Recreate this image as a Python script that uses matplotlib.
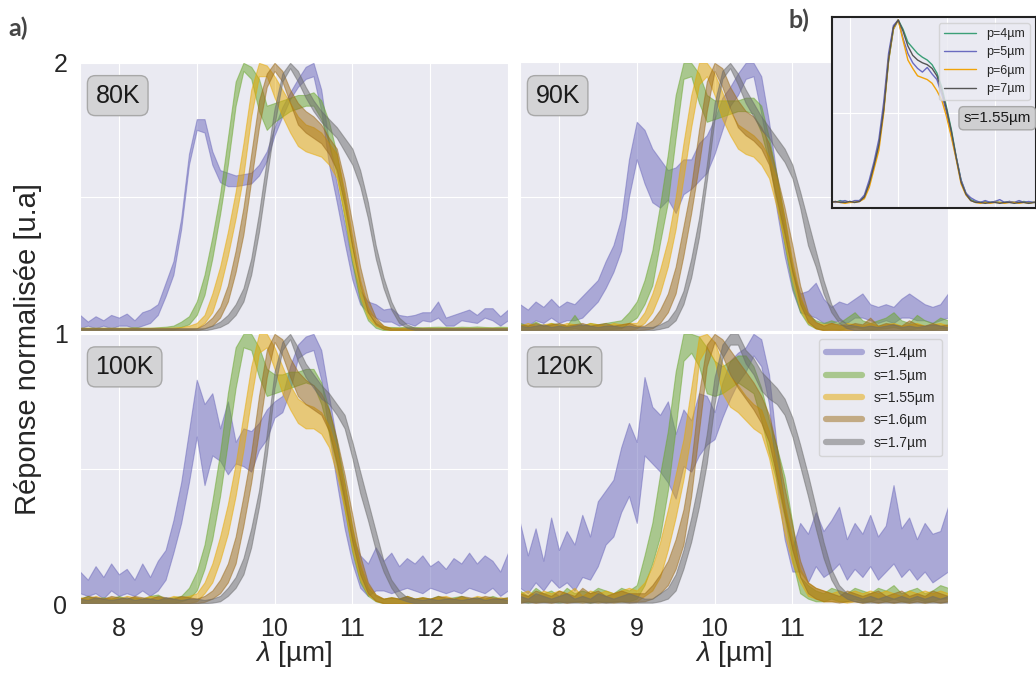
import matplotlib
matplotlib.use("Agg")
import matplotlib.pyplot as plt
from matplotlib.lines import Line2D
import seaborn as sns

# ---------------- data ----------------
WL = [7.5, 7.6, 7.7, 7.8, 7.9,
      8.0, 8.1, 8.2, 8.3, 8.4, 8.5, 8.6, 8.7, 8.8, 8.9,
      9.0, 9.1, 9.2, 9.3, 9.4, 9.5, 9.6, 9.7, 9.8, 9.9,
      10.0, 10.1, 10.2, 10.3, 10.4, 10.5, 10.6, 10.7, 10.8, 10.9,
      11.0, 11.1, 11.2, 11.3, 11.4, 11.5, 11.6, 11.7, 11.8, 11.9,
      12.0, 12.1, 12.2, 12.3, 12.4, 12.5, 12.6, 12.7, 12.8, 12.9,
      13.0]

SERIES = ["s=1.4µm", "s=1.5µm", "s=1.55µm", "s=1.6µm", "s=1.7µm"]
PANELS = ["80K", "90K", "100K", "120K"]

# ---- 80K ----
K80_S14_LO = [.01, .02, .01, .02, .01,
              .02, .02, .01, .02, .03, .06, .13, .21, .38, .62,
              .75, .74, .62, .555, .54, .54, .545, .55, .58, .635,
              .73, .80, .865, .91, .94, .95, .82, .62, .48, .33,
              .19, .10, .07, .05, .035, .035, .02, .03, .02, .04,
              .035, .05, .02, .02, .04, .035, .03, .05, .04, .02,
              .04]
K80_S14_HI = [.06, .035, .055, .04, .06,
              .05, .065, .04, .07, .08, .10, .18, .26, .42, .66,
              .79, .79, .67, .60, .59, .58, .585, .59, .62, .67,
              .76, .835, .89, .94, .985, 1.0, .90, .70, .55, .40,
              .25, .15, .11, .10, .08, .085, .06, .055, .06, .07,
              .07, .11, .05, .06, .07, .08, .06, .085, .085, .055,
              .08]
K80_S15_LO = [.002, .002, .002, .002, .002,
              .002, .002, .002, .002, .002, .002, .003, .005, .015, .025,
              .06, .135, .27, .435, .62, .84, .97, .94, .82, .75,
              .78, .80, .82, .83, .84, .84, .79, .70, .58, .42,
              .25, .11, .04, .012, .003, .003, .003, .003, .003, .003,
              .003, .003, .003, .003, .003, .003, .003, .003, .003, .003,
              .003]
K80_S15_HI = [.012, .012, .012, .012, .012,
              .012, .012, .014, .012, .012, .014, .016, .02, .035, .055,
              .11, .21, .35, .51, .72, .93, 1.0, .985, .94, .84,
              .85, .86, .87, .88, .88, .89, .86, .78, .66, .50,
              .32, .16, .07, .03, .015, .015, .014, .016, .015, .014,
              .015, .016, .015, .014, .016, .015, .017, .015, .014, .016,
              .015]
K80_S155_LO = [.002, .002, .002, .002, .002,
               .002, .002, .002, .002, .002, .002, .002, .002, .003, .005,
               .01, .03, .07, .16, .28, .42, .58, .80, .95, .95,
               .87, .80, .74, .69, .67, .66, .65, .62, .57, .43,
               .27, .13, .05, .02, .008, .003, .003, .003, .003, .003,
               .003, .003, .003, .003, .003, .003, .003, .003, .003, .003,
               .003]
K80_S155_HI = [.012, .012, .012, .012, .012,
               .012, .012, .012, .012, .012, .012, .012, .013, .015, .02,
               .03, .06, .14, .24, .37, .52, .70, .90, 1.0, .99,
               .95, .90, .85, .80, .77, .76, .74, .70, .66, .52,
               .35, .19, .09, .04, .02, .012, .012, .012, .012, .012,
               .012, .012, .012, .012, .012, .012, .012, .012, .012, .012,
               .012]
K80_S16_LO = [.002, .002, .002, .002, .002,
              .002, .002, .002, .002, .002, .002, .002, .002, .002, .002,
              .002, .01, .02, .05, .11, .22, .36, .56, .76, .91,
              .97, .93, .85, .77, .74, .72, .70, .66, .60, .47,
              .31, .17, .07, .025, .008, .003, .003, .003, .003, .003,
              .003, .003, .003, .003, .003, .003, .003, .003, .003, .003,
              .003]
K80_S16_HI = [.01, .01, .01, .01, .01,
              .01, .01, .01, .01, .01, .01, .01, .01, .01, .01,
              .01, .025, .05, .09, .17, .30, .46, .66, .86, .96,
              1.0, .97, .90, .85, .82, .80, .77, .72, .68, .56,
              .40, .24, .12, .05, .02, .01, .01, .01, .01, .01,
              .01, .01, .01, .01, .01, .01, .01, .01, .01, .01,
              .01]
K80_S17_LO = [.002, .002, .002, .002, .002,
              .002, .002, .002, .002, .002, .002, .002, .002, .002, .002,
              .002, .002, .008, .015, .03, .06, .11, .21, .37, .57,
              .77, .93, .98, .93, .87, .82, .78, .75, .72, .67,
              .62, .54, .42, .27, .16, .08, .03, .012, .004, .002,
              .002, .002, .002, .002, .002, .002, .002, .002, .002, .002,
              .002]
K80_S17_HI = [.01, .01, .01, .01, .01,
              .01, .01, .01, .01, .01, .01, .01, .01, .01, .01,
              .01, .01, .02, .035, .06, .10, .16, .27, .44, .64,
              .83, .96, 1.0, .97, .91, .86, .82, .79, .76, .72,
              .68, .60, .48, .32, .20, .11, .05, .025, .012, .01,
              .01, .01, .01, .01, .01, .01, .01, .01, .01, .01,
              .01]

# ---- 90K ----
K90_S14_LO = [.03, .02, .04, .03, .05,
              .03, .04, .04, .05, .08, .11, .16, .22, .30, .50,
              .64, .55, .48, .46, .49, .44, .51, .53, .56, .59,
              .66, .75, .84, .88, .94, .95, .81, .65, .45, .28,
              .15, .07, .06, .05, .03, .03, .04, .03, .05, .05,
              .04, .03, .04, .03, .05, .05, .04, .04, .03, .04,
              .05]
K90_S14_HI = [.10, .08, .11, .09, .12,
              .09, .11, .10, .13, .16, .19, .26, .32, .42, .64,
              .78, .75, .68, .64, .60, .61, .64, .64, .70, .73,
              .79, .87, .91, .96, 1.0, 1.0, .95, .78, .58, .38,
              .22, .14, .15, .18, .12, .09, .11, .10, .12, .14,
              .10, .09, .10, .09, .12, .14, .12, .10, .09, .10,
              .14]
K90_S15_LO = [.005, .005, .005, .005, .005,
              .005, .005, .01, .005, .005, .005, .005, .008, .01, .03,
              .05, .10, .17, .33, .48, .72, .94, .95, .85, .78,
              .79, .80, .81, .82, .82, .81, .74, .63, .48, .32,
              .16, .07, .025, .01, .005, .008, .005, .01, .015, .008,
              .005, .008, .01, .015, .008, .005, .01, .008, .005, .01,
              .008]
K90_S15_HI = [.03, .02, .035, .02, .03,
              .025, .02, .06, .02, .03, .025, .03, .035, .04, .07,
              .11, .19, .30, .47, .66, .88, 1.0, 1.0, .96, .88,
              .86, .86, .86, .86, .87, .87, .84, .72, .58, .42,
              .24, .12, .06, .04, .03, .04, .03, .05, .07, .04,
              .03, .04, .05, .07, .04, .03, .06, .04, .03, .05,
              .04]
K90_S155_LO = [.003, .003, .003, .003, .003,
               .003, .003, .003, .003, .003, .003, .003, .003, .003, .003,
               .01, .03, .07, .14, .24, .38, .57, .76, .92, .95,
               .88, .79, .73, .68, .66, .65, .62, .57, .46, .33,
               .19, .08, .03, .01, .003, .003, .003, .003, .003, .003,
               .003, .003, .003, .003, .003, .003, .003, .003, .003, .003,
               .003]
K90_S155_HI = [.02, .03, .02, .025, .03,
               .02, .03, .025, .02, .03, .025, .02, .03, .025, .03,
               .03, .07, .14, .23, .34, .50, .70, .88, 1.0, 1.0,
               .96, .89, .82, .77, .75, .73, .70, .65, .56, .42,
               .26, .13, .06, .03, .025, .03, .02, .03, .025, .02,
               .03, .02, .025, .03, .02, .025, .03, .02, .025, .03,
               .02]
K90_S16_LO = [.003, .003, .003, .003, .003,
              .003, .003, .003, .003, .003, .003, .003, .003, .003, .003,
              .003, .005, .01, .03, .07, .14, .28, .44, .62, .82,
              .97, .91, .83, .76, .73, .71, .68, .62, .49, .36,
              .22, .10, .035, .01, .003, .003, .003, .003, .003, .003,
              .003, .003, .003, .003, .003, .003, .003, .003, .003, .003,
              .003]
K90_S16_HI = [.025, .02, .03, .02, .025,
              .03, .02, .025, .03, .02, .025, .03, .02, .025, .03,
              .02, .02, .04, .08, .14, .24, .39, .54, .75, .93,
              1.0, .98, .91, .86, .82, .80, .76, .70, .58, .46,
              .32, .17, .07, .035, .02, .03, .025, .02, .03, .025,
              .05, .02, .03, .025, .02, .04, .025, .02, .03, .02,
              .025]
K90_S17_LO = [.003, .003, .003, .003, .003,
              .003, .003, .003, .003, .003, .003, .003, .003, .003, .003,
              .003, .003, .003, .008, .015, .04, .10, .20, .35, .56,
              .79, .94, .98, .92, .85, .80, .75, .72, .67, .63,
              .57, .46, .32, .24, .14, .07, .03, .01, .003, .003,
              .003, .003, .003, .003, .003, .003, .003, .003, .003, .003,
              .003]
K90_S17_HI = [.02, .015, .02, .025, .015,
              .02, .015, .02, .025, .02, .015, .02, .02, .015, .02,
              .015, .015, .015, .025, .04, .08, .15, .27, .42, .62,
              .85, .97, 1.0, .96, .90, .85, .80, .76, .72, .68,
              .62, .52, .41, .30, .19, .10, .05, .025, .02, .015,
              .02, .015, .02, .025, .015, .02, .015, .02, .025, .02,
              .015]

# ---- 100K ----
K100_S14_LO = [.04, .03, .04, .02, .05,
               .03, .04, .03, .05, .03, .05, .09, .19, .30, .45,
               .62, .44, .55, .53, .48, .52, .51, .49, .57, .61,
               .69, .71, .79, .91, .93, .94, .83, .63, .45, .28,
               .15, .06, .03, .05, .05, .04, .05, .06, .05, .04,
               .06, .05, .04, .05, .04, .06, .05, .04, .06, .03,
               .05]
K100_S14_HI = [.12, .09, .14, .10, .15,
               .11, .13, .09, .15, .10, .16, .20, .31, .45, .64,
               .83, .74, .78, .65, .75, .60, .65, .64, .67, .72,
               .75, .77, .88, .96, .99, 1.0, .94, .77, .60, .40,
               .25, .18, .15, .21, .16, .19, .14, .17, .15, .18,
               .14, .16, .13, .17, .15, .19, .15, .18, .16, .12,
               .19]
K100_S15_LO = [.003, .003, .003, .003, .003,
               .003, .003, .003, .003, .003, .003, .003, .003, .01, .02,
               .05, .13, .24, .40, .60, .80, .95, .94, .84, .77,
               .78, .79, .80, .81, .82, .81, .74, .63, .51, .35,
               .19, .08, .03, .01, .003, .003, .003, .003, .003, .003,
               .003, .003, .003, .003, .003, .003, .003, .003, .003, .003,
               .003]
K100_S15_HI = [.02, .03, .02, .025, .02,
               .03, .02, .025, .02, .03, .035, .02, .025, .03, .06,
               .12, .22, .38, .56, .78, .95, 1.0, 1.0, .95, .87,
               .85, .85, .86, .86, .87, .87, .82, .72, .60, .45,
               .28, .14, .06, .03, .02, .025, .02, .03, .02, .025,
               .02, .03, .02, .025, .03, .02, .025, .02, .03, .02,
               .025]
K100_S155_LO = [.003, .003, .003, .003, .003,
                .003, .003, .003, .003, .003, .003, .003, .003, .003, .003,
                .01, .04, .08, .16, .26, .40, .57, .76, .93, .95,
                .87, .78, .72, .67, .65, .65, .63, .58, .48, .35,
                .20, .09, .035, .012, .003, .003, .003, .003, .003, .003,
                .003, .003, .003, .003, .003, .003, .003, .003, .003, .003,
                .003]
K100_S155_HI = [.025, .02, .03, .02, .025,
                .02, .03, .025, .02, .03, .025, .02, .03, .025, .03,
                .04, .08, .15, .25, .37, .52, .70, .88, 1.0, 1.0,
                .95, .88, .81, .76, .74, .73, .71, .66, .57, .44,
                .28, .15, .07, .035, .02, .025, .02, .03, .02, .025,
                .02, .025, .03, .02, .025, .02, .03, .025, .02, .025,
                .02]
K100_S16_LO = [.003, .003, .003, .003, .003,
               .003, .003, .003, .003, .003, .003, .003, .003, .003, .003,
               .003, .008, .02, .04, .08, .15, .29, .45, .64, .84,
               .97, .92, .84, .77, .74, .72, .70, .64, .52, .38,
               .23, .11, .04, .012, .003, .003, .003, .003, .003, .003,
               .003, .003, .003, .003, .003, .003, .003, .003, .003, .003,
               .003]
K100_S16_HI = [.02, .03, .025, .02, .03,
               .025, .02, .03, .025, .02, .03, .025, .02, .03, .025,
               .02, .03, .05, .09, .15, .25, .40, .56, .77, .94,
               1.0, .98, .91, .86, .83, .81, .78, .72, .61, .48,
               .33, .18, .08, .035, .02, .025, .02, .03, .02, .025,
               .02, .03, .025, .02, .03, .025, .02, .03, .025, .02,
               .025]
K100_S17_LO = [.003, .003, .003, .003, .003,
               .003, .003, .003, .003, .003, .003, .003, .003, .003, .003,
               .003, .003, .005, .01, .03, .06, .11, .21, .36, .55,
               .80, .94, .98, .90, .84, .80, .76, .74, .70, .65,
               .54, .41, .31, .20, .12, .06, .02, .01, .003, .003,
               .003, .003, .003, .003, .003, .003, .003, .003, .003, .003,
               .003]
K100_S17_HI = [.02, .015, .025, .02, .015,
               .02, .025, .015, .02, .02, .015, .025, .02, .015, .02,
               .02, .015, .02, .03, .06, .10, .17, .28, .42, .63,
               .86, .97, 1.0, .95, .89, .85, .81, .78, .74, .70,
               .60, .49, .38, .27, .16, .09, .05, .025, .02, .015,
               .02, .015, .02, .02, .015, .02, .025, .015, .02, .02,
               .015]

# ---- 120K ----
K120_S14_LO = [.06, .04, .08, .05, .09,
               .06, .08, .05, .10, .09, .14, .22, .25, .34, .40,
               .30, .55, .52, .49, .45, .39, .51, .49, .55, .59,
               .61, .69, .76, .82, .86, .92, .88, .74, .44, .24,
               .12, .12, .08, .14, .10, .12, .15, .09, .13, .10,
               .14, .09, .12, .15, .10, .13, .09, .12, .08, .10,
               .12]
K120_S14_HI = [.30, .18, .28, .16, .32,
               .20, .27, .22, .33, .25, .38, .42, .46, .58, .67,
               .60, .84, .73, .70, .75, .63, .72, .68, .78, .77,
               .71, .82, .90, .93, .95, 1.0, .98, .85, .58, .36,
               .21, .30, .26, .34, .27, .31, .36, .24, .30, .26,
               .33, .25, .29, .44, .28, .32, .24, .30, .26, .27,
               .36]
K120_S15_LO = [.01, .005, .01, .008, .01,
               .005, .01, .008, .01, .005, .01, .008, .01, .01, .01,
               .02, .07, .15, .25, .42, .65, .90, .93, .88, .78,
               .77, .78, .80, .82, .80, .78, .68, .56, .45, .32,
               .16, .04, .02, .01, .01, .02, .01, .01, .02, .01,
               .01, .02, .01, .02, .01, .01, .02, .01, .01, .02,
               .02]
K120_S15_HI = [.05, .03, .06, .04, .05,
               .03, .06, .04, .05, .04, .06, .05, .04, .06, .05,
               .07, .18, .30, .48, .64, .86, 1.0, 1.0, .99, .95,
               .90, .88, .90, .92, .92, .88, .80, .68, .58, .47,
               .30, .10, .07, .05, .04, .06, .05, .04, .06, .05,
               .04, .06, .05, .07, .04, .05, .06, .04, .05, .07,
               .06]
K120_S155_LO = [.005, .01, .005, .01, .005,
                .01, .005, .01, .005, .01, .005, .01, .005, .01, .01,
                .01, .03, .05, .10, .20, .32, .46, .63, .90, .95,
                .90, .78, .73, .71, .68, .65, .63, .54, .40, .26,
                .15, .08, .03, .02, .01, .01, .01, .005, .01, .005,
                .01, .005, .01, .005, .01, .005, .01, .005, .01, .005,
                .01]
K120_S155_HI = [.04, .05, .03, .05, .04,
                .05, .04, .06, .03, .05, .04, .05, .04, .05, .06,
                .05, .08, .14, .23, .35, .48, .61, .80, .99, 1.0,
                .97, .89, .84, .81, .77, .74, .72, .64, .52, .37,
                .24, .13, .08, .06, .05, .04, .05, .04, .05, .04,
                .05, .04, .05, .04, .03, .05, .04, .05, .04, .05,
                .04]
K120_S16_LO = [.005, .01, .005, .008, .005,
               .01, .005, .008, .01, .005, .01, .005, .008, .01, .005,
               .008, .01, .02, .04, .07, .13, .22, .40, .64, .88,
               .97, .92, .85, .80, .76, .72, .67, .60, .47, .33,
               .20, .10, .04, .02, .01, .01, .005, .01, .01, .005,
               .01, .005, .01, .005, .01, .005, .01, .005, .01, .005,
               .01]
K120_S16_HI = [.04, .03, .05, .04, .03,
               .05, .04, .03, .06, .04, .05, .03, .04, .05, .04,
               .04, .04, .07, .11, .16, .24, .35, .52, .78, .96,
               1.0, .98, .94, .90, .86, .82, .77, .70, .58, .43,
               .29, .16, .08, .06, .05, .04, .03, .05, .04, .03,
               .04, .05, .03, .04, .05, .03, .04, .03, .05, .04,
               .03]
K120_S17_LO = [.005, .005, .005, .005, .005,
               .005, .005, .005, .005, .005, .005, .005, .005, .005, .005,
               .005, .005, .005, .01, .02, .05, .13, .23, .36, .52,
               .74, .91, .96, .96, .89, .85, .79, .76, .74, .70,
               .62, .51, .40, .28, .17, .09, .04, .02, .01, .005,
               .005, .005, .005, .005, .005, .005, .005, .005, .005, .005,
               .005]
K120_S17_HI = [.03, .02, .04, .03, .02,
               .03, .04, .02, .03, .02, .04, .03, .02, .03, .04,
               .03, .02, .02, .04, .06, .11, .20, .32, .46, .63,
               .84, .96, 1.0, 1.0, .94, .91, .86, .83, .80, .76,
               .69, .59, .48, .36, .23, .13, .07, .04, .03, .02,
               .03, .02, .03, .02, .03, .02, .03, .02, .03, .02,
               .03]

# ---- inset (b): s = 1.55 µm, several periods ----
INSET_WL = [8.6, 8.7, 8.8, 8.9,
            9.0, 9.1, 9.2, 9.3, 9.4, 9.5, 9.6, 9.7, 9.8, 9.9,
            10.0, 10.1, 10.2, 10.3, 10.4, 10.5, 10.6, 10.7, 10.8, 10.9,
            11.0, 11.1, 11.2, 11.3, 11.4, 11.5, 11.6, 11.7, 11.8, 11.9,
            12.0, 12.1, 12.2, 12.3, 12.4, 12.5, 12.6, 12.7, 12.8, 12.9]
INSET_LABELS = ["p=4µm", "p=5µm", "p=6µm", "p=7µm"]
P4 = [.025, .02, .03, .02,
      .025, .02, .03, .05, .12, .22, .33, .52, .78, .95,
      1.0, .95, .88, .85, .82, .80, .785, .76, .715, .64,
      .53, .41, .265, .14, .07, .035, .025, .02, .025, .02,
      .025, .02, .02, .025, .02, .02, .025, .02, .02, .025]
P5 = [.03, .02, .025, .03,
      .02, .03, .03, .06, .14, .24, .36, .56, .82, .97,
      1.0, .90, .82, .77, .74, .72, .745, .71, .68, .60,
      .50, .38, .26, .14, .07, .045, .03, .02, .03, .02,
      .025, .035, .02, .025, .02, .03, .02, .025, .02, .02]
P6 = [.02, .025, .02, .015,
      .02, .02, .025, .04, .10, .20, .30, .50, .78, .95,
      1.0, .89, .785, .74, .70, .69, .68, .66, .62, .57,
      .48, .37, .25, .12, .06, .03, .02, .015, .02, .015,
      .02, .02, .015, .02, .02, .015, .02, .015, .02, .02]
P7 = [.02, .025, .02, .02,
      .025, .02, .025, .05, .12, .22, .33, .52, .79, .96,
      1.0, .94, .86, .81, .785, .77, .76, .74, .70, .62,
      .52, .40, .26, .13, .065, .03, .02, .02, .015, .02,
      .02, .015, .02, .02, .015, .02, .02, .015, .02, .02]

# ---------------- style ----------------
sns.set_style("darkgrid")
plt.rcParams['font.family'] = ['Liberation Sans', 'DejaVu Sans']
plt.rcParams['mathtext.fontset'] = 'custom'
plt.rcParams['mathtext.it'] = 'Liberation Sans:italic'
plt.rcParams['mathtext.rm'] = 'Liberation Sans'

COLORS = ['#6b68bb', '#6aa62c', '#e6a800', '#9c6b18', '#6a6a6a']
INSET_COLORS = ['#3b9f77', '#6a6bbf', '#f0a30a', '#555555']

W, H = 1036, 675
fig = plt.figure(figsize=(W / 100, H / 100), dpi=100)


def px_axes(x0, y0, x1, y1):
    return fig.add_axes([x0 / W, 1 - y1 / H, (x1 - x0) / W, (y1 - y0) / H])


data = {
    "80K": [(K80_S14_LO, K80_S14_HI), (K80_S15_LO, K80_S15_HI), (K80_S155_LO, K80_S155_HI),
            (K80_S16_LO, K80_S16_HI), (K80_S17_LO, K80_S17_HI)],
    "90K": [(K90_S14_LO, K90_S14_HI), (K90_S15_LO, K90_S15_HI), (K90_S155_LO, K90_S155_HI),
            (K90_S16_LO, K90_S16_HI), (K90_S17_LO, K90_S17_HI)],
    "100K": [(K100_S14_LO, K100_S14_HI), (K100_S15_LO, K100_S15_HI), (K100_S155_LO, K100_S155_HI),
             (K100_S16_LO, K100_S16_HI), (K100_S17_LO, K100_S17_HI)],
    "120K": [(K120_S14_LO, K120_S14_HI), (K120_S15_LO, K120_S15_HI), (K120_S155_LO, K120_S155_HI),
             (K120_S16_LO, K120_S16_HI), (K120_S17_LO, K120_S17_HI)],
}

boxes = {
    "80K": (80, 62, 508, 331),
    "90K": (520, 62, 948, 331),
    "100K": (80, 333, 508, 604),
    "120K": (520, 333, 948, 604),
}

axes = {}
for name in PANELS:
    ax = px_axes(*boxes[name])
    axes[name] = ax
    for (lo, hi), col, lab in zip(data[name], COLORS, SERIES):
        ax.fill_between(WL, lo, hi, color=col, alpha=0.5, lw=0.8, label=lab)
    ax.set_xlim(7.5, 13.0)
    ax.set_ylim(0, 1.003)
    ax.set_xticks([8, 9, 10, 11, 12])
    ax.tick_params(axis='both', labelsize=18, pad=9, length=0)
    ax.text(0.036, 0.875, name, transform=ax.transAxes, fontsize=18,
            ha='left', va='center', color='#1a1a1a',
            bbox=dict(boxstyle='round,pad=0.32', fc='#d3d3d5', ec='#a8a8a8', lw=1))

# y tick labels only on the left column, x tick labels only on the bottom row
axes["80K"].set_yticks([0.5, 1.0])
axes["80K"].set_yticklabels(['', '2'])
axes["100K"].set_yticks([0.0, 0.5, 1.0])
axes["100K"].set_yticklabels(['0', '', '1'])
for name in ["90K", "120K"]:
    axes[name].set_yticks([0.5])
    axes[name].set_yticklabels([''])
for name in ["80K", "90K"]:
    axes[name].set_xticklabels([])

# legend in 120K panel
handles = [Line2D([0], [0], color=c, lw=4.5, alpha=0.5) for c in COLORS]
axes["120K"].legend(handles, SERIES, loc='upper right', fontsize=10,
                    handlelength=2.6, handletextpad=0.8, labelspacing=0.6,
                    borderpad=0.5, borderaxespad=0.45, frameon=True,
                    facecolor='#eaeaf2', edgecolor='#cfcfcf', framealpha=0.8)

# axis labels
fig.text(28 / W, 1 - 349 / H, 'Réponse normalisée [u.a]', rotation=90,
         fontsize=21, ha='center', va='center')
fig.text(294 / W, 1 - 654 / H, r'$\lambda$ [µm]', fontsize=20, ha='center', va='center')
fig.text(734 / W, 1 - 654 / H, r'$\lambda$ [µm]', fontsize=20, ha='center', va='center')

# panel letters
fig.text(8 / W, 1 - 28 / H, 'a)', fontsize=18, fontweight='bold', color='#454545',
         ha='left', va='center', family=['Lato', 'DejaVu Sans'])
fig.text(788 / W, 1 - 20 / H, 'b)', fontsize=18, fontweight='bold', color='#454545',
         ha='left', va='center', family=['Lato', 'DejaVu Sans'])

# inset (b)
axi = px_axes(832, 17, 1036, 208)
axi.set_facecolor('#eaeaf2')
for ys, col, lab in zip([P4, P5, P6, P7], INSET_COLORS, INSET_LABELS):
    axi.plot(INSET_WL, ys, color=col, lw=1, label=lab)
axi.set_xlim(8.63, 12.85)
axi.set_ylim(-0.01, 1.016)
axi.set_xticks([9, 10, 11, 12])
axi.set_yticks([0.5])
axi.set_xticklabels([])
axi.set_yticklabels([])
axi.tick_params(length=0)
for sp in axi.spines.values():
    sp.set_visible(True)
    sp.set_color('#222222')
    sp.set_linewidth(1.5)
axi.legend(loc='upper right', fontsize=9, handlelength=2.6, handletextpad=0.8,
           labelspacing=0.5, borderpad=0.4, borderaxespad=0.5, frameon=True,
           facecolor='#eaeaf2', edgecolor='#cfcfcf', framealpha=0.8)
axi.text(0.81, 0.47, 's=1.55µm', transform=axi.transAxes, fontsize=11,
         ha='center', va='center', color='#1a1a1a',
         bbox=dict(boxstyle='round,pad=0.3', fc='#cfcfd1', ec='#a8a8a8', lw=1))

fig.savefig('out.png', dpi=100)
